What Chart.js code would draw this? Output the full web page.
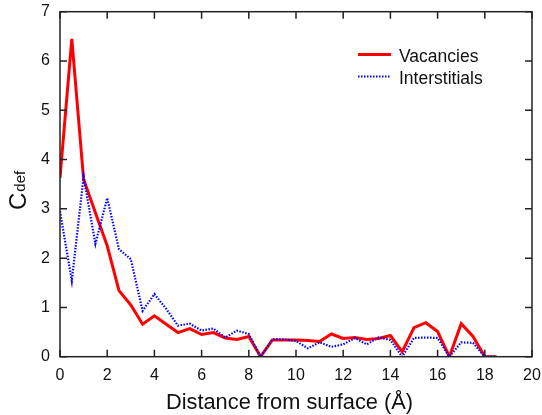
<!DOCTYPE html>
<html>
<head>
<meta charset="utf-8">
<script src="https://cdn.jsdelivr.net/npm/chart.js@4/dist/chart.umd.min.js"></script>
<style>
    html, body { margin: 0; padding: 0; background: #fff; }
    #wrap { width: 542px; height: 415px; position: relative; }
</style>
</head>
<body>
<div id="wrap"><canvas id="defChart"></canvas></div>
<script>
// distance from surface (Angstrom)
const distances = [0, 0.5, 1, 1.5, 2, 2.5, 3, 3.5, 4, 4.5, 5, 5.5, 6, 6.5, 7, 7.5, 8, 8.5, 9, 9.5,
    10, 10.5, 11, 11.5, 12, 12.5, 13, 13.5, 14, 14.5, 15, 15.5, 16, 16.5, 17, 17.5, 18, 18.5];

const vacancies = [3.63, 6.45, 3.6, 2.92, 2.25, 1.34, 1.05, 0.66, 0.83, 0.66, 0.49, 0.57, 0.45, 0.49, 0.38, 0.35, 0.41, 0, 0.34, 0.34,
    0.34, 0.33, 0.31, 0.46, 0.37, 0.39, 0.35, 0.37, 0.43, 0.1, 0.59, 0.69, 0.51, 0, 0.67, 0.41, 0, 0];

const interstitials = [2.95, 1.54, 3.65, 2.29, 3.22, 2.18, 1.98, 0.93, 1.27, 0.97, 0.63, 0.67, 0.53, 0.57, 0.39, 0.53, 0.46, 0, 0.35, 0.35,
    0.32, 0.17, 0.29, 0.2, 0.25, 0.38, 0.25, 0.39, 0.34, 0, 0.38, 0.39, 0.38, 0, 0.29, 0.28, 0, 0];

const xTicks = [0, 2, 4, 6, 8, 10, 12, 14, 16, 18, 20];
const yTicks = [0, 1, 2, 3, 4, 5, 6, 7];

const FONT = "'Liberation Sans', Arial, Helvetica, sans-serif";
const AXIS_COLOR = "#222";
const TEXT_COLOR = "#111";

function toPoints(xs, ys) {
    return xs.map((x, i) => ({ x: x, y: ys[i] }));
}

// frame, inward ticks on all four sides, legend and axis titles
const framePlugin = {
    id: "frame",
    afterDraw(chart) {
        const ctx = chart.ctx;
        const area = chart.chartArea;
        const xs = chart.scales.x;
        const ys = chart.scales.y;
        const tick = 7;

        ctx.save();
        ctx.strokeStyle = AXIS_COLOR;
        ctx.lineWidth = 1.5;
        ctx.strokeRect(area.left, area.top, area.right - area.left, area.bottom - area.top);

        ctx.beginPath();
        xTicks.forEach(v => {
            const px = xs.getPixelForValue(v);
            ctx.moveTo(px, area.bottom);
            ctx.lineTo(px, area.bottom - tick);
            ctx.moveTo(px, area.top);
            ctx.lineTo(px, area.top + tick);
        });
        yTicks.forEach(v => {
            const py = ys.getPixelForValue(v);
            ctx.moveTo(area.left, py);
            ctx.lineTo(area.left + tick, py);
            ctx.moveTo(area.right, py);
            ctx.lineTo(area.right - tick, py);
        });
        ctx.stroke();

        // legend
        const items = [
            { label: "Vacancies", color: "#ff0000", width: 3, dash: [] },
            { label: "Interstitials", color: "#0000ff", width: 2.2, dash: [1.5, 1.5] }
        ];
        items.forEach((item, i) => {
            const y = 54.5 + i * 22;
            ctx.beginPath();
            ctx.strokeStyle = item.color;
            ctx.lineWidth = item.width;
            ctx.setLineDash(item.dash);
            ctx.moveTo(358, y);
            ctx.lineTo(391, y);
            ctx.stroke();
            ctx.setLineDash([]);
            ctx.fillStyle = TEXT_COLOR;
            ctx.font = "17.5px " + FONT;
            ctx.textBaseline = "alphabetic";
            ctx.textAlign = "left";
            ctx.fillText(item.label, 399, y + 7);
        });

        // x axis title
        ctx.fillStyle = TEXT_COLOR;
        ctx.font = "21.8px " + FONT;
        ctx.textAlign = "center";
        ctx.textBaseline = "alphabetic";
        ctx.fillText("Distance from surface (Å)", 289.5, 409);

        // y axis title: C with subscript def
        ctx.textAlign = "left";
        ctx.translate(25.5, 210);
        ctx.rotate(-Math.PI / 2);
        ctx.font = "24px " + FONT;
        ctx.fillText("C", 0, 0);
        const cw = ctx.measureText("C").width;
        ctx.font = "15px " + FONT;
        ctx.fillText("def", cw + 1, -1);
        ctx.restore();
    }
};

new Chart(document.getElementById("defChart"), {
    type: "line",
    data: {
        datasets: [
            {
                label: "Interstitials",
                data: toPoints(distances, interstitials),
                borderColor: "#0000ff",
                borderWidth: 2.2,
                borderDash: [1.5, 1.5],
                pointRadius: 0,
                tension: 0,
                fill: false,
                order: 0
            },
            {
                label: "Vacancies",
                data: toPoints(distances, vacancies),
                borderColor: "#ff0000",
                borderWidth: 3,
                pointRadius: 0,
                tension: 0,
                fill: false,
                order: 1
            }
        ]
    },
    plugins: [framePlugin],
    options: {
        responsive: true,
        maintainAspectRatio: false,
        animation: false,
        events: [],
        layout: {
            padding: { top: 11.7, right: 10, left: 0, bottom: 0 }
        },
        plugins: {
            legend: { display: false },
            tooltip: { enabled: false }
        },
        scales: {
            x: {
                type: "linear",
                min: 0,
                max: 20,
                afterFit: s => {
                    s.height = 58.3;
                    s.paddingLeft = 0;
                    s.paddingRight = 0;
                },
                afterBuildTicks: s => { s.ticks = xTicks.map(v => ({ value: v })); },
                grid: { display: false, drawTicks: false },
                border: { display: false },
                ticks: {
                    color: TEXT_COLOR,
                    padding: 9,
                    maxRotation: 0,
                    font: { family: FONT, size: 16 }
                }
            },
            y: {
                min: 0,
                max: 7,
                afterFit: s => {
                    s.width = 60;
                    s.paddingTop = 0;
                    s.paddingBottom = 0;
                },
                afterBuildTicks: s => { s.ticks = yTicks.map(v => ({ value: v })); },
                grid: { display: false, drawTicks: false },
                border: { display: false },
                ticks: {
                    color: TEXT_COLOR,
                    padding: 10,
                    font: { family: FONT, size: 16 }
                }
            }
        }
    }
});
</script>
</body>
</html>
